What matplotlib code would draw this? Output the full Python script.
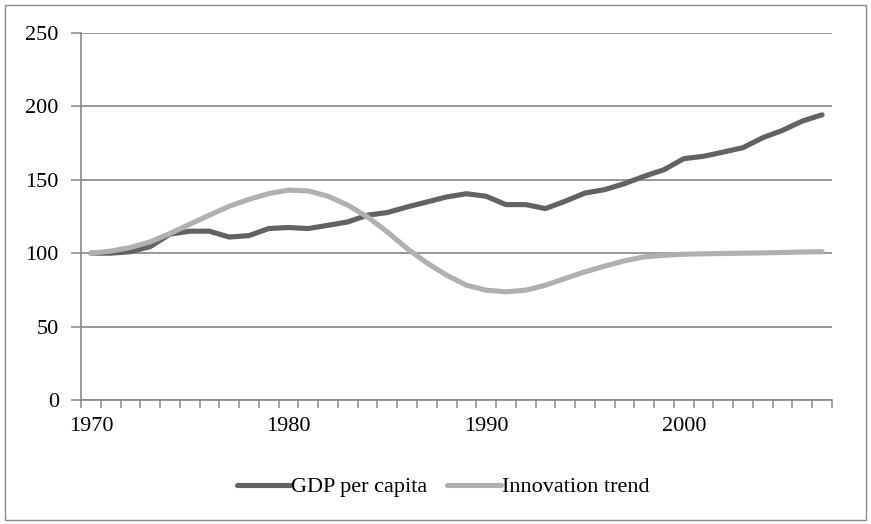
import matplotlib
matplotlib.use("Agg")
import matplotlib.pyplot as plt
from matplotlib.patches import Rectangle
import numpy as np

years = list(range(1970, 2008))
gdp = [100, 100, 101, 104.5, 113, 115, 115, 111, 112, 116.8,
       117.5, 116.8, 119, 121.3, 125.9, 127.7, 131.5, 134.9, 138.3, 140.5,
       138.8, 133.1, 133.1, 130.4, 135.4, 141, 143.3, 147.4, 152.4, 156.9,
       164.4, 166, 168.9, 171.9, 178.7, 183.7, 190, 194.3]
innovation = [100, 101.4, 103.9, 107.7, 113.4, 119.7, 125.9, 132, 136.7, 140.6,
              143, 142.4, 138.8, 132.7, 124.7, 114.5, 103.2, 93.4, 85, 78.2,
              74.8, 73.7, 74.8, 78.2, 82.8, 87.3, 91.2, 94.8, 97.5, 98.6,
              99.3, 99.6, 99.8, 100, 100.2, 100.5, 100.8, 101]
tick_labels = ["1970", "1980", "1990", "2000"]
series_names = ["GDP per capita", "Innovation trend"]

plt.rcParams['font.family'] = ['Liberation Serif', 'DejaVu Serif']

W, H = 871, 524
fig = plt.figure(figsize=(W / 100, H / 100), dpi=100)
fig.patch.set_facecolor("white")

# outer border
fig.add_artist(Rectangle((4.5 / W, 1 - 519.5 / H), (866 - 4.5) / W, (519.5 - 4.5) / H,
                         transform=fig.transFigure, fill=False,
                         edgecolor="#8c8c8c", linewidth=1.0))

left, right, top, bottom = 81, 832, 33, 400
ax = fig.add_axes([left / W, 1 - bottom / H, (right - left) / W, (bottom - top) / H])

x = np.arange(len(years))
gc = "#878787"
ax.plot(x, gdp, color="#626262", linewidth=3.7, solid_capstyle="round",
        solid_joinstyle="round", label=series_names[0], zorder=3)
ax.plot(x, innovation, color="#b0b0b0", linewidth=3.7, solid_capstyle="round",
        solid_joinstyle="round", label=series_names[1], zorder=3)

ax.set_xlim(-0.5, len(years) - 0.5)
ax.set_ylim(0, 250)
ax.set_yticks(np.arange(0, 251, 50))
ax.yaxis.grid(True, color=gc, linewidth=1.2)
ax.set_axisbelow(True)

fs = 16
label_idx = [years.index(int(t)) for t in tick_labels]
ax.set_xticks(label_idx)
ax.set_xticklabels(tick_labels)
ax.tick_params(axis="x", which="major", length=0, pad=12, labelsize=fs)
ax.set_xticks(np.arange(-0.5, len(years), 1.0), minor=True)
ax.tick_params(axis="x", which="minor", length=6, width=1.1, color=gc, direction="out")
ax.tick_params(axis="y", length=7, width=1.1, color=gc, labelsize=fs, pad=9)

for s in ["top", "right"]:
    ax.spines[s].set_visible(False)
for s in ["left", "bottom"]:
    ax.spines[s].set_color(gc)
    ax.spines[s].set_linewidth(1.2)

leg = fig.legend(loc="center", bbox_to_anchor=(443 / W, 1 - 487 / H), ncol=2,
                 frameon=False, fontsize=fs, handlelength=2.4, handletextpad=0.05,
                 columnspacing=0.9)

fig.savefig("out.png", dpi=100)
